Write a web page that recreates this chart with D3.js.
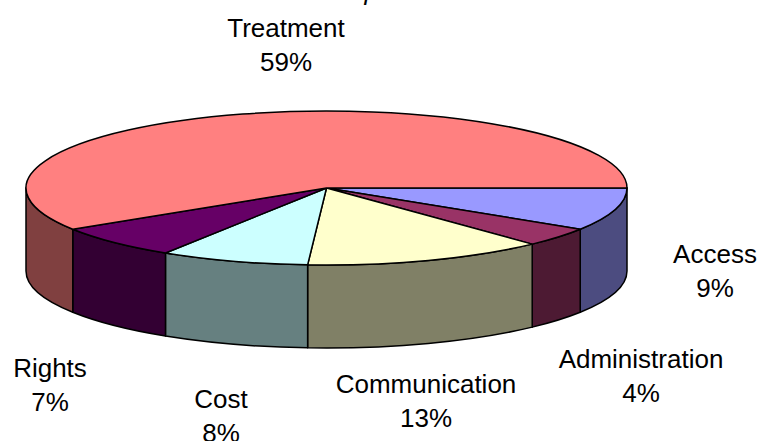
<!DOCTYPE html>
<html>
<head>
<meta charset="utf-8">
<script src="https://cdn.jsdelivr.net/npm/d3@7"></script>
<style>
  html, body { margin: 0; padding: 0; background: #fff; }
  svg { display: block; }
  text { font-family: "Liberation Sans", Arial, sans-serif; fill: #000; }
</style>
</head>
<body>
<svg id="chart" width="762" height="441"></svg>
<script>
// Complaint categories and their shares (percent)
const categories = ["Access", "Administration", "Communication", "Cost", "Rights", "Treatment"];
const values = [9, 4, 13, 8, 7, 59];
const topColors = ["#9999FF", "#993366", "#FFFFCC", "#CCFFFF", "#660066", "#FF8080"];
const sideColors = ["#4C4C80", "#4D1A33", "#808066", "#668080", "#330033", "#804040"];
const chartTitle = "Nature of all complaints made";

const W = 762, H = 441;
const cx = 326.5, cy = 188, rx = 300.5, ry = 77, depth = 83;

// label anchor points (centre x, first baseline y)
const labelPos = {
  "Access": [715, 263],
  "Administration": [641, 368],
  "Communication": [426, 393],
  "Cost": [221, 408],
  "Rights": [50, 377],
  "Treatment": [286, 37]
};
const lineGap = 33.5;

const svg = d3.select("#chart");

// d3 angles are clockwise from 12 o'clock; start the first slice at 3 o'clock
const pie = d3.pie().sort(null).value(d => d.v)
  .startAngle(Math.PI / 2).endAngle(Math.PI / 2 + 2 * Math.PI);
const data = pie(categories.map((c, i) => ({ c, v: values[i], i })));

const px = a => cx + rx * Math.sin(a);
const py = (a, dy = 0) => cy - ry * Math.cos(a) + dy;
const fmt = n => n.toFixed(3);

// Side walls: only the front half (angles between PI/2 and 3PI/2 in d3 terms) is visible
const sides = svg.append("g");
data.forEach(d => {
  // walk each slice across both possible wraps
  [0, 2 * Math.PI].forEach(off => {
    const a0 = Math.max(d.startAngle - off, Math.PI / 2);
    const a1 = Math.min(d.endAngle - off, 3 * Math.PI / 2);
    if (a1 - a0 <= 1e-6) return;
    const p =
      `M${fmt(px(a0))},${fmt(py(a0))}` +
      `A${rx},${ry} 0 0 1 ${fmt(px(a1))},${fmt(py(a1))}` +
      `L${fmt(px(a1))},${fmt(py(a1, depth))}` +
      `A${rx},${ry} 0 0 0 ${fmt(px(a0))},${fmt(py(a0, depth))}Z`;
    sides.append("path")
      .attr("d", p)
      .attr("fill", sideColors[d.data.i])
      .attr("stroke", "#000")
      .attr("stroke-width", 1.5)
      .attr("stroke-linejoin", "round");
  });
});

// Top faces
const tops = svg.append("g");
data.forEach(d => {
  const a0 = d.startAngle, a1 = d.endAngle;
  const large = (a1 - a0) > Math.PI ? 1 : 0;
  const p =
    `M${cx},${cy}` +
    `L${fmt(px(a0))},${fmt(py(a0))}` +
    `A${rx},${ry} 0 ${large} 1 ${fmt(px(a1))},${fmt(py(a1))}Z`;
  tops.append("path")
    .attr("d", p)
    .attr("fill", topColors[d.data.i])
    .attr("stroke", "#000")
    .attr("stroke-width", 1.5)
    .attr("stroke-linejoin", "round");
});

// Category labels with percentages
const labels = svg.append("g").attr("text-anchor", "middle").style("font-size", "26px");
const total = d3.sum(values);
data.forEach(d => {
  const [lx, ly] = labelPos[d.data.c];
  labels.append("text").attr("x", lx).attr("y", ly).text(d.data.c);
  labels.append("text").attr("x", lx).attr("y", ly + lineGap)
    .text(Math.round(d.data.v / total * 100) + "%");
});

// Title (sits mostly above the visible area)
svg.append("text")
  .attr("x", 340).attr("y", -0.5)
  .attr("text-anchor", "middle")
  .style("font-size", "26px")
  .style("font-style", "italic")
  .text(chartTitle);
</script>
</body>
</html>
